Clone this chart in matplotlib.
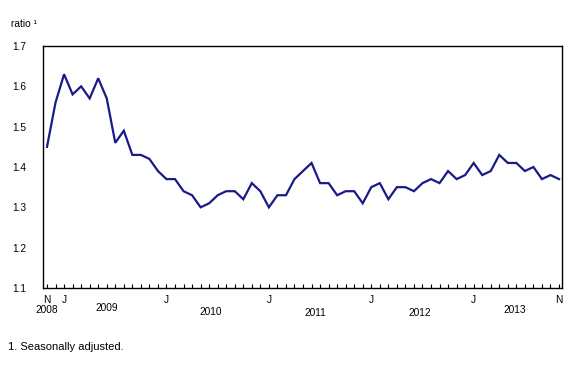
import matplotlib
matplotlib.use("Agg")
import matplotlib.pyplot as plt
import matplotlib.transforms as mtransforms

values = [1.45, 1.56, 1.63, 1.58, 1.60, 1.57, 1.62, 1.57, 1.46, 1.49, 1.43, 1.43, 1.42,
          1.39, 1.37, 1.37, 1.34, 1.33, 1.30, 1.31, 1.33, 1.34, 1.34, 1.32, 1.36, 1.34,
          1.30, 1.33, 1.33, 1.37, 1.39, 1.41, 1.36, 1.36, 1.33, 1.34, 1.34, 1.31,
          1.35, 1.36, 1.32, 1.35, 1.35, 1.34, 1.36, 1.37, 1.36, 1.39, 1.37, 1.38,
          1.41, 1.38, 1.39, 1.43, 1.41, 1.41, 1.39, 1.40, 1.37, 1.38, 1.37]
months = list(range(len(values)))  # Nov 2008 .. Nov 2013
month_label_pos = [0, 2, 14, 26, 38, 50, 60]
month_labels = ["N", "J", "J", "J", "J", "J", "N"]
year_label_pos = [0, 7, 19.2, 31.5, 43.7, 54.8]
year_labels = ["2008", "2009", "2010", "2011", "2012", "2013"]
year_label_y = [310, 308, 312, 313, 313, 310]  # pixel rows
yticks = [1.1, 1.2, 1.3, 1.4, 1.5, 1.6, 1.7]

plt.rcParams['font.family'] = ['Liberation Sans', 'DejaVu Sans']
W, H = 588, 380
fig = plt.figure(figsize=(W / 100, H / 100), dpi=100)
ax = fig.add_axes([43 / W, 1 - 288 / H, (562 - 43) / W, (288 - 46) / H])

ax.plot(months, values, color='#1a1a88', linewidth=1.6, solid_joinstyle='miter')
ax.set_xlim(-0.47, 60.35)
ax.set_ylim(1.1, 1.7)
ax.set_yticks(yticks)
ax.set_yticklabels([f"{v:.1f}" for v in yticks], fontsize=7.3)
ax.tick_params(axis='y', length=0, pad=12)
ax.set_xticks(months)
ax.set_xticklabels([])
ax.tick_params(axis='x', direction='in', length=3, width=0.8, color='black')
for s in ax.spines.values():
    s.set_linewidth(1.0)
    s.set_color('black')

trans = mtransforms.blended_transform_factory(ax.transData, fig.transFigure)
for p, lab in zip(month_label_pos, month_labels):
    ax.text(p, 1 - 300 / H, lab, transform=trans, ha='center', va='center', fontsize=7.3)
for p, lab, yy in zip(year_label_pos, year_labels, year_label_y):
    ax.text(p, 1 - yy / H, lab, transform=trans, ha='center', va='center', fontsize=7.3)

fig.text(11 / W, 1 - 24 / H, "ratio \u00b9", ha='left', va='center', fontsize=7.3)
fig.text(8 / W, 1 - 347 / H, "1. Seasonally adjusted.", ha='left', va='center', fontsize=8)

fig.savefig("out.png", dpi=100)
